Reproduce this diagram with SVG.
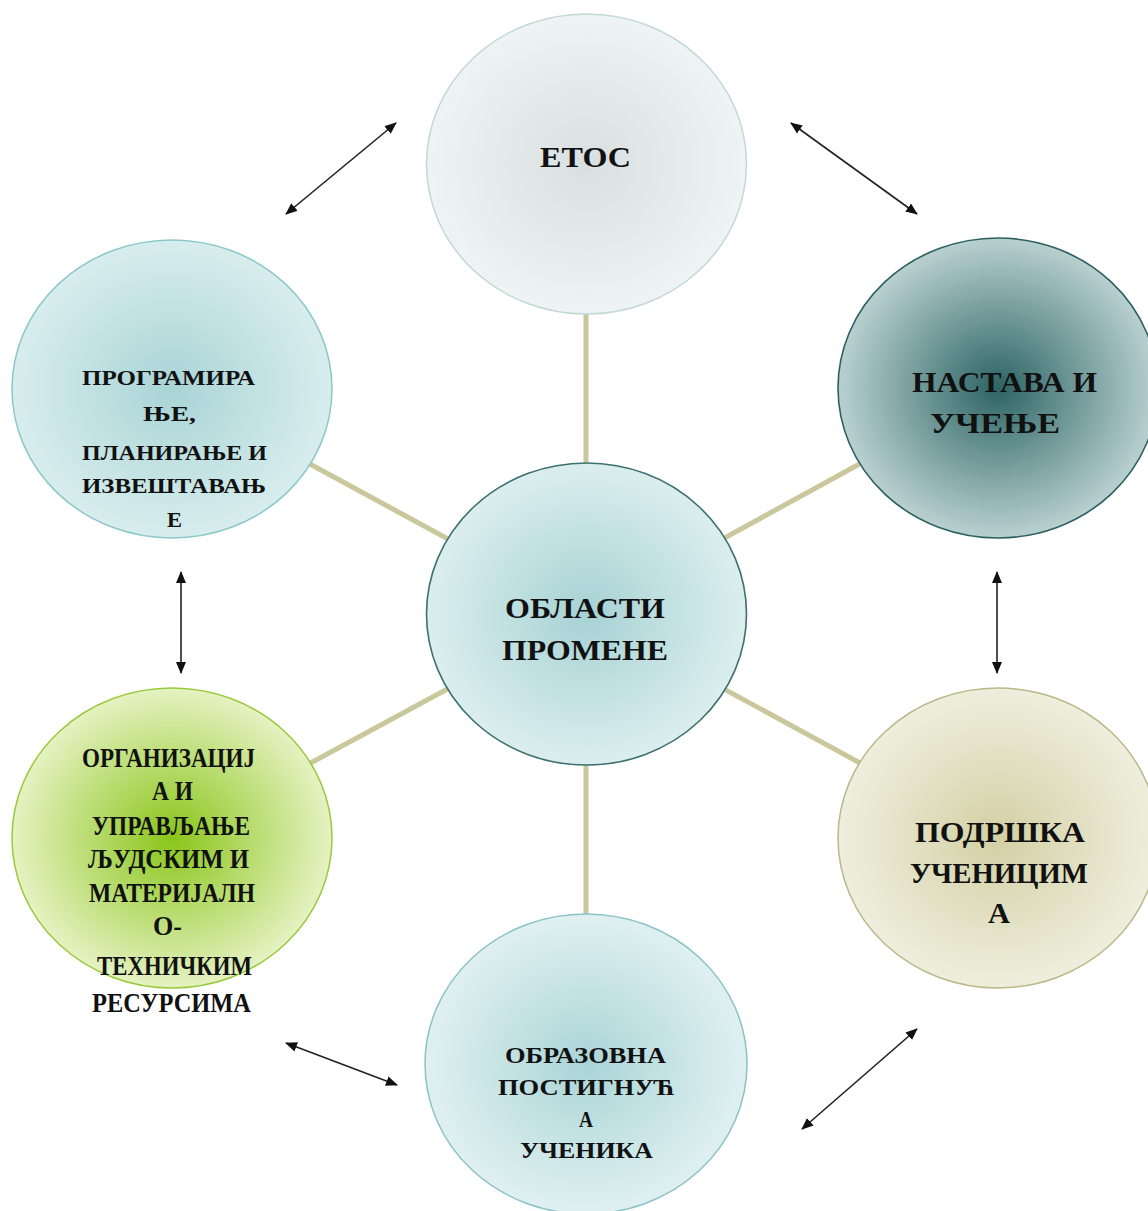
<svg xmlns="http://www.w3.org/2000/svg" width="1148" height="1211" viewBox="0 0 1148 1211">
<style>
.lbl{font-family:"Liberation Serif","Times New Roman",serif;font-weight:bold;fill:#111}
.conn{stroke:#c9c79b;stroke-width:5;fill:none}
.arr{stroke:#222;stroke-width:1.6;fill:none;marker-start:url(#ah);marker-end:url(#ah)}
</style>
<defs>
<marker id="ah" viewBox="0 0 12 10" refX="11" refY="5" markerWidth="12" markerHeight="10" markerUnits="userSpaceOnUse" orient="auto-start-reverse">
<path d="M0,0 L12,5 L0,10 z" fill="#111"/>
</marker>
<radialGradient id="gEtos" cx="50%" cy="50%" r="50%"><stop offset="0" stop-color="#d9e0e1"/><stop offset="1" stop-color="#eef3f3"/></radialGradient>
<radialGradient id="gCenter" cx="50%" cy="50%" r="50%"><stop offset="0" stop-color="#a7d2d4"/><stop offset="1" stop-color="#dbeeee"/></radialGradient>
<radialGradient id="gTL" cx="50%" cy="50%" r="50%"><stop offset="0" stop-color="#a9d4d6"/><stop offset="1" stop-color="#d8eded"/></radialGradient>
<radialGradient id="gTR" cx="50%" cy="50%" r="50%"><stop offset="0" stop-color="#2d6464"/><stop offset="1" stop-color="#b9d0d0"/></radialGradient>
<radialGradient id="gBL" cx="50%" cy="50%" r="50%"><stop offset="0" stop-color="#8ac51a"/><stop offset="1" stop-color="#e5f2c2"/></radialGradient>
<radialGradient id="gBR" cx="50%" cy="50%" r="50%"><stop offset="0" stop-color="#d3d0a4"/><stop offset="1" stop-color="#efeedd"/></radialGradient>
<radialGradient id="gB" cx="50%" cy="50%" r="50%"><stop offset="0" stop-color="#aad5d7"/><stop offset="1" stop-color="#e0f0f0"/></radialGradient>
</defs>
<rect width="1148" height="1211" fill="#fff"/>
<g id="connectors">
<line class="conn" x1="586" y1="614" x2="586" y2="164"/>
<line class="conn" x1="586" y1="614" x2="172" y2="389"/>
<line class="conn" x1="586" y1="614" x2="998" y2="388"/>
<line class="conn" x1="586" y1="614" x2="172" y2="838"/>
<line class="conn" x1="586" y1="614" x2="998" y2="838"/>
<line class="conn" x1="586" y1="614" x2="586" y2="1064"/>
<line class="arr" x1="286" y1="214" x2="396" y2="123"/>
<line class="arr" x1="791" y1="123" x2="917" y2="214"/>
<line class="arr" x1="181" y1="572" x2="181" y2="673"/>
<line class="arr" x1="997" y1="572" x2="997" y2="673"/>
<line class="arr" x1="286" y1="1043" x2="397" y2="1085"/>
<line class="arr" x1="802" y1="1129" x2="917" y2="1029"/>
</g>
<g id="node-etos">
<ellipse cx="586.5" cy="164" rx="160" ry="150" fill="url(#gEtos)" stroke="#c2d8d8" stroke-width="1.5"/>
<text class="lbl" x="540" y="167" font-size="30" textLength="91" lengthAdjust="spacingAndGlyphs">ЕТОС</text>
</g>
<g id="node-center">
<ellipse cx="586.5" cy="614" rx="160" ry="151" fill="url(#gCenter)" stroke="#3d7070" stroke-width="1.6"/>
<text class="lbl" x="505" y="618" font-size="30" textLength="160" lengthAdjust="spacingAndGlyphs">ОБЛАСТИ</text>
<text class="lbl" x="502" y="660" font-size="30" textLength="166" lengthAdjust="spacingAndGlyphs">ПРОМЕНЕ</text>
</g>
<g id="node-programiranje">
<ellipse cx="172" cy="389" rx="160" ry="149" fill="url(#gTL)" stroke="#8cc7ca" stroke-width="1.5"/>
<text class="lbl" x="82" y="385" font-size="22" textLength="173" lengthAdjust="spacingAndGlyphs">ПРОГРАМИРА</text>
<text class="lbl" x="143" y="421" font-size="22" textLength="53" lengthAdjust="spacingAndGlyphs">ЊЕ,</text>
<text class="lbl" x="82" y="460" font-size="22" textLength="185" lengthAdjust="spacingAndGlyphs">ПЛАНИРАЊЕ И</text>
<text class="lbl" x="82" y="493" font-size="22" textLength="184" lengthAdjust="spacingAndGlyphs">ИЗВЕШТАВАЊ</text>
<text class="lbl" x="167" y="527" font-size="22" textLength="15" lengthAdjust="spacingAndGlyphs">Е</text>
</g>
<g id="node-nastava">
<ellipse cx="998" cy="388" rx="160" ry="150" fill="url(#gTR)" stroke="#2c6060" stroke-width="1.6"/>
<text class="lbl" x="912" y="392" font-size="30" textLength="185" lengthAdjust="spacingAndGlyphs">НАСТАВА И</text>
<text class="lbl" x="930" y="433" font-size="30" textLength="130" lengthAdjust="spacingAndGlyphs">УЧЕЊЕ</text>
</g>
<g id="node-organizacija">
<ellipse cx="172" cy="838" rx="160" ry="150" fill="url(#gBL)" stroke="#98c93a" stroke-width="1.5"/>
<text class="lbl" x="82" y="767" font-size="27" textLength="173" lengthAdjust="spacingAndGlyphs">ОРГАНИЗАЦИЈ</text>
<text class="lbl" x="152" y="800" font-size="27" textLength="41" lengthAdjust="spacingAndGlyphs">А И</text>
<text class="lbl" x="92" y="835" font-size="27" textLength="158" lengthAdjust="spacingAndGlyphs">УПРАВЉАЊЕ</text>
<text class="lbl" x="88" y="868" font-size="27" textLength="161" lengthAdjust="spacingAndGlyphs">ЉУДСКИМ И</text>
<text class="lbl" x="89" y="902" font-size="27" textLength="166" lengthAdjust="spacingAndGlyphs">МАТЕРИЈАЛН</text>
<text class="lbl" x="153" y="935" font-size="27" textLength="29" lengthAdjust="spacingAndGlyphs">О-</text>
<text class="lbl" x="97" y="975" font-size="27" textLength="155" lengthAdjust="spacingAndGlyphs">ТЕХНИЧКИМ</text>
<text class="lbl" x="92" y="1012" font-size="27" textLength="159" lengthAdjust="spacingAndGlyphs">РЕСУРСИМА</text>
</g>
<g id="node-podrska">
<ellipse cx="998" cy="838" rx="160" ry="150" fill="url(#gBR)" stroke="#bab886" stroke-width="1.5"/>
<text class="lbl" x="915" y="842" font-size="30" textLength="170" lengthAdjust="spacingAndGlyphs">ПОДРШКА</text>
<text class="lbl" x="910" y="883" font-size="30" textLength="178" lengthAdjust="spacingAndGlyphs">УЧЕНИЦИМ</text>
<text class="lbl" x="988" y="923" font-size="30" textLength="22" lengthAdjust="spacingAndGlyphs">А</text>
</g>
<g id="node-postignuca">
<ellipse cx="586" cy="1064" rx="161" ry="150" fill="url(#gB)" stroke="#88c3c7" stroke-width="1.5"/>
<text class="lbl" x="505" y="1063" font-size="24" textLength="161" lengthAdjust="spacingAndGlyphs">ОБРАЗОВНА</text>
<text class="lbl" x="498" y="1095" font-size="24" textLength="177" lengthAdjust="spacingAndGlyphs">ПОСТИГНУЋ</text>
<text class="lbl" x="579" y="1127" font-size="24" textLength="14" lengthAdjust="spacingAndGlyphs">А</text>
<text class="lbl" x="520" y="1158" font-size="24" textLength="133" lengthAdjust="spacingAndGlyphs">УЧЕНИКА</text>
</g>
</svg>
